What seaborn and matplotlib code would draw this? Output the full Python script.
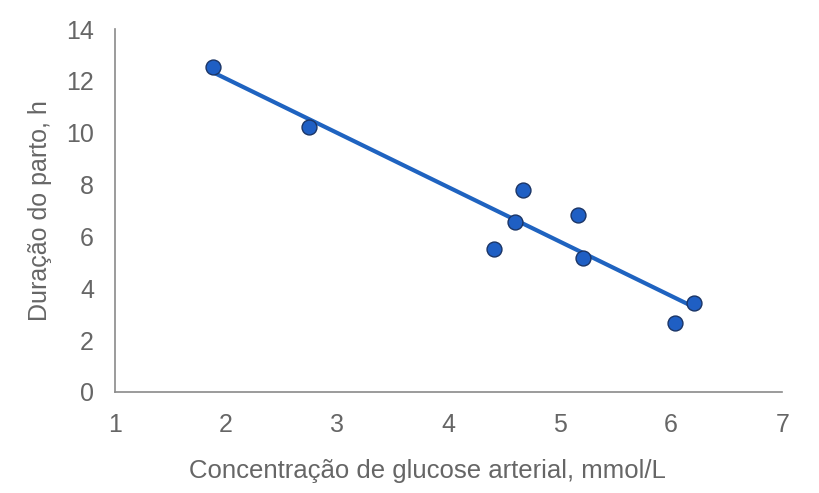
import matplotlib
matplotlib.use("Agg")
import matplotlib.pyplot as plt
import seaborn as sns
import pandas as pd

glucose = [1.88, 2.745, 4.41, 4.60, 4.67, 5.16, 5.21, 6.04, 6.21]
duration = [12.53, 10.21, 5.53, 6.57, 7.81, 6.81, 5.18, 2.67, 3.44]
x_ticks = [1, 2, 3, 4, 5, 6, 7]
y_ticks = [0, 2, 4, 6, 8, 10, 12, 14]
x_label = "Concentração de glucose arterial, mmol/L"
y_label = "Duração do parto, h"

df = pd.DataFrame({"x": glucose, "y": duration})

sns.set_style("white")
plt.rcParams['font.family'] = ['Liberation Sans', 'DejaVu Sans']

fig = plt.figure(figsize=(8.2, 4.93), dpi=100)
ax = fig.add_axes([0.140, 0.205, 0.814, 0.736])

sns.regplot(data=df, x="x", y="y", ci=None, ax=ax, scatter=False,
            line_kws=dict(color="#1f63c0", lw=3, zorder=2))
sns.scatterplot(data=df, x="x", y="y", ax=ax, s=115, color="#1f5fc4",
                edgecolor="#1b3566", linewidth=1, zorder=3)

ax.set_xlim(1, 7)
ax.set_ylim(0, 14)
ax.set_xticks(x_ticks)
ax.set_yticks(y_ticks)
for s in ["top", "right"]:
    ax.spines[s].set_visible(False)
for s in ["left", "bottom"]:
    ax.spines[s].set_color("#8a8a8a")
    ax.spines[s].set_linewidth(1.2)
ax.tick_params(axis="both", which="both", direction="out", length=7, width=1.2,
               color="#8a8a8a", labelcolor="#666666", labelsize=18)
ax.tick_params(axis="x", pad=8)
ax.tick_params(axis="y", pad=8)
ax.set_xlabel(x_label, fontsize=18.5, color="#666666")
ax.set_ylabel(y_label, fontsize=18, color="#666666", labelpad=10)
ax.xaxis.set_label_coords(0.469, -0.185)
ax.xaxis.label.set_va("top")

fig.savefig("out.png", dpi=100)
